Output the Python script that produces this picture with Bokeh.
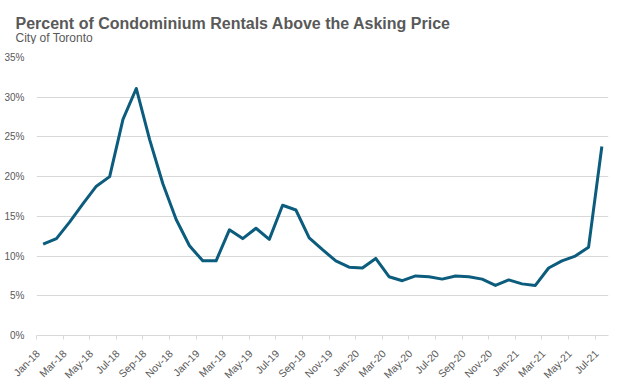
from bokeh.plotting import figure
from bokeh.models import FixedTicker, Range1d
from bokeh.layouts import column
from bokeh.core.properties import value
from bokeh.embed import file_html
from bokeh.resources import INLINE
import math

title_text = "Percent of Condominium Rentals Above the Asking Price"
subtitle_text = "City of Toronto"
months = ["Jan-18","Feb-18","Mar-18","Apr-18","May-18","Jun-18","Jul-18","Aug-18","Sep-18","Oct-18","Nov-18","Dec-18",
          "Jan-19","Feb-19","Mar-19","Apr-19","May-19","Jun-19","Jul-19","Aug-19","Sep-19","Oct-19","Nov-19","Dec-19",
          "Jan-20","Feb-20","Mar-20","Apr-20","May-20","Jun-20","Jul-20","Aug-20","Sep-20","Oct-20","Nov-20","Dec-20",
          "Jan-21","Feb-21","Mar-21","Apr-21","May-21","Jun-21","Jul-21"]
pct_above = [11.5, 12.2, 14.3, 16.6, 18.8, 20.0, 27.2, 31.1, 24.7, 19.1, 14.6, 11.3,
             9.4, 9.4, 13.3, 12.2, 13.5, 12.1, 16.4, 15.8, 12.3, 10.8, 9.4, 8.6,
             8.5, 9.7, 7.4, 6.9, 7.5, 7.4, 7.1, 7.5, 7.4, 7.1, 6.3, 7.0,
             6.5, 6.3, 8.5, 9.4, 10.0, 11.1, 23.8]
y_ticks = [0, 5, 10, 15, 20, 25, 30, 35]

TEXT = "#595959"
GRID = "#d9d9d9"
W = 622
HEAD_H = 44
CHART_H = 343

# ---- header with title and subtitle (pixel coordinates, y downward)
head = figure(width=W, height=HEAD_H, output_backend="svg", toolbar_location=None,
              x_range=Range1d(0, W), y_range=Range1d(HEAD_H, 0),
              x_axis_location=None, y_axis_location=None, min_border=0)
head.frame_align = False
head.outline_line_color = None
head.grid.grid_line_color = None
head.text(x=[15], y=[23], text=[title_text], text_font=value("Liberation Sans"),
          text_font_size="16px", text_font_style="bold", text_color=TEXT,
          text_baseline="alphabetic", text_align="left")
head.text(x=[15], y=[37], text=[subtitle_text], text_font=value("Liberation Sans"),
          text_font_size="12px", text_color=TEXT,
          text_baseline="alphabetic", text_align="left")

# ---- chart
x = list(range(len(months)))
label_idx = x[::2]
label_pos = [round(i - 0.4, 1) for i in label_idx]   # rotated labels end just left of the point

p = figure(width=W, height=CHART_H, output_backend="svg", toolbar_location=None,
           x_range=Range1d(-0.5, len(months) - 0.5), y_range=Range1d(0, 35),
           min_border_left=36, min_border_right=14, min_border_top=13, min_border_bottom=51)
p.frame_align = False
p.outline_line_color = None

p.line(x, pct_above, line_color="#0b5c7d", line_width=3, line_join="round")

p.xaxis.ticker = FixedTicker(ticks=label_pos, minor_ticks=[i - 0.5 for i in range(0, len(months) + 1, 2)])
p.xaxis.major_label_overrides = {pos: months[i] for pos, i in zip(label_pos, label_idx)}
p.xaxis.major_label_orientation = math.pi / 4
p.xaxis.major_tick_line_color = None
p.xaxis.major_tick_in = 0
p.xaxis.major_tick_out = 0
p.xaxis.minor_tick_line_color = GRID
p.xaxis.minor_tick_in = 0
p.xaxis.minor_tick_out = 4
p.xaxis.axis_line_color = GRID
p.xaxis.major_label_text_font = "Liberation Sans"
p.xaxis.major_label_text_font_size = "10.5px"
p.xaxis.major_label_text_color = TEXT
p.xaxis.major_label_standoff = 12
p.xgrid.grid_line_color = None

p.yaxis.ticker = FixedTicker(ticks=y_ticks)
p.yaxis.major_label_overrides = {v: f"{v}%" for v in y_ticks}
p.yaxis.axis_line_color = None
p.yaxis.major_tick_line_color = None
p.yaxis.major_tick_in = 0
p.yaxis.major_tick_out = 0
p.yaxis.minor_tick_line_color = None
p.yaxis.major_label_text_font = "Liberation Sans"
p.yaxis.major_label_text_font_size = "10px"
p.yaxis.major_label_text_color = TEXT
p.yaxis.major_label_standoff = 12
p.ygrid.ticker = FixedTicker(ticks=y_ticks)
p.ygrid.grid_line_color = GRID

layout = column(head, p, spacing=0)
open("out.html", "w").write(file_html(layout, INLINE))
